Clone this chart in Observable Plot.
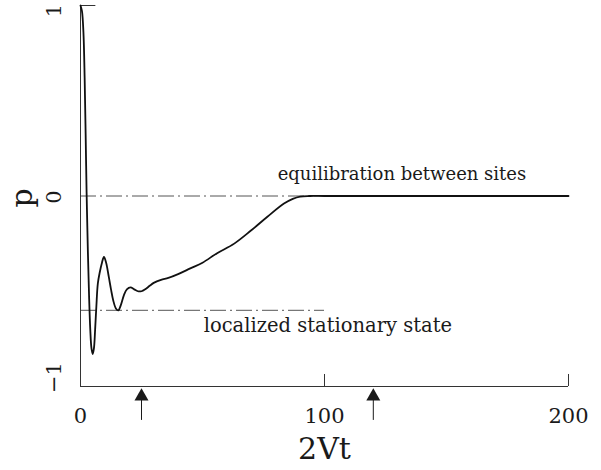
<!DOCTYPE html>
<html><head><meta charset="utf-8">
<script src="https://cdn.jsdelivr.net/npm/d3@7"></script>
<script src="https://cdn.jsdelivr.net/npm/@observablehq/plot@0.6"></script>
<style>body{margin:0;background:#fff} svg{display:block}</style>
</head><body><div id="chart"></div>
<script>
// curve p(2Vt)
const times = [0, 0.6, 1.2, 1.7, 2.1, 2.5, 3.0, 3.5, 4.0, 4.5, 5.0, 5.5, 6.0, 6.5, 7.1, 7.9, 8.8, 9.6, 10.5, 11.6, 12.5, 13.4, 14.5, 15.5, 16.6, 17.8, 19.0, 20.5, 22, 23.5, 25, 26.5, 28.5, 30, 33, 36, 40, 45, 50, 56, 63, 70, 76.6, 83.4, 87, 90, 94, 100, 120, 150, 200];
const pValues = [1.0, 0.97, 0.86, 0.62, 0.33, 0.02, -0.28, -0.52, -0.70, -0.80, -0.83, -0.80, -0.70, -0.58, -0.46, -0.40, -0.35, -0.32, -0.35, -0.425, -0.49, -0.547, -0.59, -0.60, -0.57, -0.52, -0.49, -0.48, -0.49, -0.50, -0.50, -0.49, -0.47, -0.456, -0.44, -0.43, -0.41, -0.38, -0.35, -0.30, -0.25, -0.18, -0.109, -0.04, -0.015, -0.003, 0, 0, 0, 0, 0];

// reference levels
const levelValues = [0, -0.6];
const levelEnds = [200, 100];
const levelLabels = ["equilibration between sites", "localized stationary state"];
const levelLabelT = [80.8, 50.5];
const levelLabelP = [0.113, -0.68];

// axes
const xTicks = [0, 100, 200];
const xTickLabels = ["0", "100", "200"];
const yTicks = [1, 0, -1];
const yTickLabels = ["1", "0", "−1"];
const xLabel = "2Vt";
const yLabel = "p";

// arrows marking times
const arrowTimes = [25, 120];

const curve = times.map((t, i) => ({t, p: pValues[i]}));
const levels = levelValues.map((p, i) => ({p, t2: levelEnds[i], label: levelLabels[i], lt: levelLabelT[i], lp: levelLabelP[i]}));
const xt = xTicks.map((t, i) => ({t, label: xTickLabels[i]}));
const yt = yTicks.map((p, i) => ({p, label: yTickLabels[i]}));

const ink = "#1a1a1a";
const yLabelStyle = {x: () => 0, y: "p", text: "label", dx: -26, rotate: -90, fontSize: 21, fill: ink};
const levelTextStyle = {x: "lt", y: "lp", text: "label", textAnchor: "start", fill: ink};
const plot = Plot.plot({
  width: 601,
  height: 470,
  marginLeft: 80,
  marginRight: 33,
  marginTop: 5,
  marginBottom: 84,
  x: {domain: [0, 200], axis: null},
  y: {domain: [-1, 1], axis: null},
  style: {fontFamily: "DejaVu Serif", background: "#fff", color: ink, overflow: "visible"},
  marks: [
    // reference dash-dot lines
    Plot.ruleY(levels, {y: "p", x1: 0, x2: "t2", stroke: "#555", strokeWidth: 1, strokeDasharray: "16,4,2,4"}),
    Plot.text(levels.filter(d => d.p === 0), {...levelTextStyle, fontSize: 18}),
    Plot.text(levels.filter(d => d.p !== 0), {...levelTextStyle, fontSize: 19.5}),
    // axes lines
    Plot.ruleY([-1], {x1: 0, x2: 200, stroke: "#333", strokeWidth: 1}),
    Plot.ruleX([0], {y1: -1, y2: 1, stroke: "#333", strokeWidth: 1}),
    Plot.ruleY([1], {x1: 0, x2: 6.3, stroke: "#333", strokeWidth: 1}),
    Plot.ruleX([100, 200], {y1: -1, y2: -0.937, stroke: "#333", strokeWidth: 1}),
    // tick labels
    Plot.text(xt, {x: "t", y: () => -1, text: "label", dy: 30, fontSize: 21, fill: ink}),
    Plot.text([xLabel], {x: () => 100, y: () => -1, text: d => d, dy: 63, fontSize: 30, fill: ink}),
    Plot.text(yt.filter(d => d.p === 1), {...yLabelStyle, dy: 5}),
    Plot.text(yt.filter(d => d.p === 0), {...yLabelStyle, dy: 1}),
    Plot.text(yt.filter(d => d.p === -1), {...yLabelStyle, dy: -9}),
    Plot.text([yLabel], {x: () => 0, y: () => 0, text: d => d, dx: -58, dy: 2, rotate: -90, fontSize: 30, fill: ink}),
    // curve
    Plot.line(curve, {x: "t", y: "p", curve: "catmull-rom", stroke: "#111", strokeWidth: 1.8}),
    // arrows
    Plot.ruleX(arrowTimes, {y1: -1.052, y2: -1.178, stroke: ink, strokeWidth: 1}),
    Plot.dot(arrowTimes, {x: d => d, y: () => -1.052, symbol: "triangle", r: 5.2, fill: ink, stroke: "none"})
  ]
});
document.getElementById("chart").appendChild(plot);
</script>
</body></html>
